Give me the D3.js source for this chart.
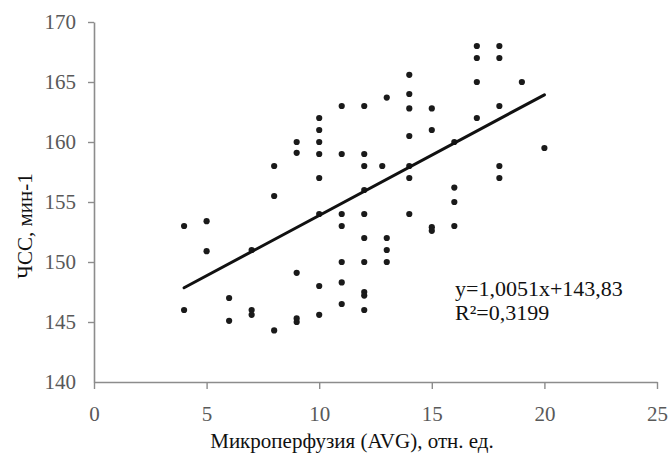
<!DOCTYPE html>
<html>
<head>
<meta charset="utf-8">
<script src="https://cdn.jsdelivr.net/npm/d3@7"></script>
<style>
  html, body { margin: 0; padding: 0; background: #fff; }
  svg { display: block; }
  svg text { font-family: "Liberation Serif", "Times New Roman", serif !important; }
</style>
</head>
<body>
<svg id="chart" width="669" height="455"></svg>
<script>
// Data
const xValues = [
  4, 4,
  5, 5,
  6, 6,
  7, 7, 7,
  8, 8, 8,
  9, 9, 9, 9, 9,
  10, 10, 10, 10, 10, 10, 10, 10,
  11, 11, 11, 11, 11, 11, 11,
  12, 12, 12, 12, 12, 12, 12, 12, 12, 12,
  13, 12.8, 13, 13, 13,
  14, 14, 14, 14, 14, 14, 14,
  15, 15, 15, 15,
  16, 16, 16, 16,
  17, 17, 17, 17,
  18, 18, 18, 18, 18,
  19,
  20
];
const yValues = [
  153, 146,
  153.4, 150.9,
  147, 145.1,
  151, 146, 145.6,
  158, 155.5, 144.3,
  160, 159.1, 149.1, 145.3, 145,
  162, 161, 160, 159, 157, 154, 148, 145.6,
  163, 159, 154, 153, 150, 148.3, 146.5,
  163, 159, 158, 156, 154, 152, 150, 147.5, 147.2, 146,
  163.7, 158, 152, 151, 150,
  165.6, 164, 162.8, 160.5, 158, 157, 154,
  162.8, 161, 152.9, 152.6,
  160, 156.2, 155, 153,
  168, 167, 165, 162,
  168, 167, 163, 158, 157,
  165,
  159.5
];
const xTicks = [0, 5, 10, 15, 20, 25];
const yTicks = [140, 145, 150, 155, 160, 165, 170];
const trendSlope = 1.0051;
const trendIntercept = 143.83;
const trendRange = [4, 20];
const equationLabel = "y=1,0051x+143,83";
const r2Label = "R²=0,3199";
const xTitle = "Микроперфузия (AVG), отн. ед.";
const yTitle = "ЧСС, мин-1";

const serif = '"Liberation Serif", "Times New Roman", serif';
const svg = d3.select("#chart");
const x = d3.scaleLinear().domain([0, 25]).range([94, 657]);
const y = d3.scaleLinear().domain([140, 170]).range([382, 22]);

const axisColor = "#8c8c8c";
const tickTextColor = "#595959";

// X axis
const gx = svg.append("g").attr("transform", `translate(0,${y(140)})`)
  .call(d3.axisBottom(x).tickValues(xTicks).tickSize(7).tickPadding(17).tickSizeOuter(0));
gx.attr("font-family", null).style("font-family", serif);
gx.select(".domain").attr("stroke", axisColor).attr("stroke-width", 1.6);
gx.selectAll(".tick line").attr("stroke", axisColor).attr("stroke-width", 1.4);
gx.selectAll(".tick text").attr("fill", tickTextColor).style("font-size", "21px").style("font-family", serif);

// Y axis
const gy = svg.append("g").attr("transform", `translate(${x(0)},0)`)
  .call(d3.axisLeft(y).tickValues(yTicks).tickSize(6).tickPadding(12).tickSizeOuter(0));
gy.attr("font-family", null).style("font-family", serif);
gy.select(".domain").attr("stroke", axisColor).attr("stroke-width", 1.6);
gy.selectAll(".tick line").attr("stroke", axisColor).attr("stroke-width", 1.4);
gy.selectAll(".tick text").attr("fill", tickTextColor).style("font-size", "21px").style("font-family", serif);
gy.selectAll(".tick").filter(d => d === 140).select("line").remove();

// Points
svg.append("g").selectAll("circle")
  .data(xValues.map((v, i) => [v, yValues[i]]))
  .join("circle")
  .attr("cx", d => x(d[0]))
  .attr("cy", d => y(d[1]))
  .attr("r", 3.1)
  .attr("fill", "#1a1a1a");

// Trend line
svg.append("line")
  .attr("x1", x(trendRange[0])).attr("y1", y(trendSlope * trendRange[0] + trendIntercept))
  .attr("x2", x(trendRange[1])).attr("y2", y(trendSlope * trendRange[1] + trendIntercept))
  .attr("stroke", "#111").attr("stroke-width", 3).attr("stroke-linecap", "round");

// Equation text
svg.append("text").attr("x", 455).attr("y", 296).style("font-size", "22px").attr("fill", "#111")
  .text(equationLabel);
svg.append("text").attr("x", 455).attr("y", 320).style("font-size", "22px").attr("fill", "#111")
  .text(r2Label);

// Axis titles
svg.append("text").attr("x", 352).attr("y", 448).attr("text-anchor", "middle")
  .style("font-size", "21px").attr("fill", "#111").text(xTitle);
svg.append("text").attr("transform", "translate(32,226) rotate(-90)")
  .attr("text-anchor", "middle").style("font-size", "21px").attr("fill", "#111").text(yTitle);
</script>
</body>
</html>
